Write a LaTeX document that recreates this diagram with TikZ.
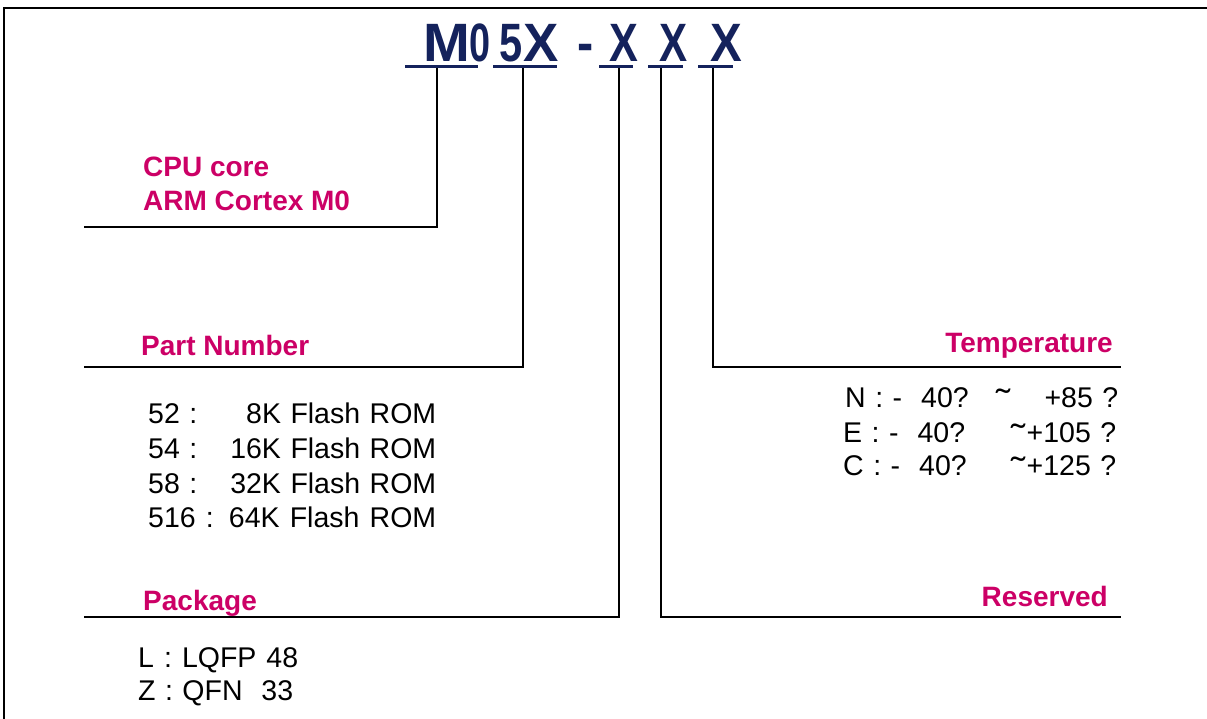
\documentclass[tikz,border=0pt]{standalone}
\usepackage{fontspec}
\setmainfont{Liberation Sans}
\definecolor{navy}{RGB}{20,34,92}
\definecolor{mag}{RGB}{204,0,102}
\newcommand{\tld}{\raisebox{-0.2em}{\scalebox{1.5}[1.2]{\char"02DC}}}
\tikzset{
  ttl/.style={anchor=base,inner sep=0pt,text=navy,font=\fontsize{54}{60}\selectfont\bfseries},
  uline/.style={draw=navy,line width=3pt},
  conn/.style={draw=black,line width=2.2pt},
  head/.style={inner sep=0pt,text=mag,font=\fontsize{28}{34}\selectfont\bfseries},
  body/.style={inner sep=0pt,text=black,font=\fontsize{28.5}{35}\selectfont},
}
\begin{document}
\begin{tikzpicture}[x=1pt,y=-1pt]
\useasboundingbox (0,0) rectangle (1207,719);
% frame
\draw[line width=2pt] (4,719) -- (4,8) -- (1207,8);
% title characters
\node[ttl] (cM) at (446.5,62) {\scalebox{1.04}[1]{M}};
\node[ttl] (c0) at (480,62) {\scalebox{0.7}[1]{0}};
\node[ttl] (c5) at (511.5,62) {\scalebox{0.77}[1]{5}};
\node[ttl] (cX1) at (541.5,62) {\scalebox{0.98}[1]{X}};
\node[ttl] (cdash) at (585.5,62) {\scalebox{0.9}[1]{-}};
\node[ttl] (cX2) at (624,62) {\scalebox{0.8}[1]{X}};
\node[ttl] (cX3) at (673.5,62) {\scalebox{0.78}[1]{X}};
\node[ttl] (cX4) at (726,62) {\scalebox{0.88}[1]{X}};
% underlines
\draw[uline] (405,66.5) -- (478,66.5);
\draw[uline] (493,66.5) -- (557,66.5);
\draw[uline] (599,66.5) -- (633,66.5);
\draw[uline] (648,66.5) -- (683,66.5);
\draw[uline] (698,66.5) -- (733,66.5);
% connector coordinates
\coordinate (tCPU) at (437,68);
\coordinate (kCPU) at (437,227);
\coordinate (eCPU) at (84,227);
\coordinate (tPN) at (523,68);
\coordinate (kPN) at (523,367);
\coordinate (ePN) at (84,367);
\coordinate (tPK) at (619,68);
\coordinate (kPK) at (619,617);
\coordinate (ePK) at (84,617);
\coordinate (tRS) at (661,68);
\coordinate (kRS) at (661,617);
\coordinate (eRS) at (1121,617);
\coordinate (tTP) at (713,68);
\coordinate (kTP) at (713,367);
\coordinate (eTP) at (1121,367);
\draw[conn] (tCPU) -- (kCPU) -- (eCPU);
\draw[conn] (tPN) -- (kPN) -- (ePN);
\draw[conn] (tPK) -- (kPK) -- (ePK);
\draw[conn] (tRS) -- (kRS) -- (eRS);
\draw[conn] (tTP) -- (kTP) -- (eTP);
% headings
\node[head,anchor=base west] (hcpu1) at (143,177) {CPU core};
\node[head,anchor=base west] (hcpu2) at (143,211) {ARM Cortex M0};
\node[head,anchor=base west] (hpn) at (141,355) {Part Number};
\node[head,anchor=base west] (hpk) at (143,610) {Package};
\node[head,anchor=base east] (htp) at (1113,352) {Temperature};
\node[head,anchor=base east] (hrs) at (1108,606) {Reserved};
% part number list
\node[body,anchor=base west,text width=288pt] (p1) at (148,423.5) {52 :\hfill 8K Flash ROM};
\node[body,anchor=base west,text width=288pt] (p2) at (148,458) {54 :\hfill 16K Flash ROM};
\node[body,anchor=base west,text width=288pt] (p3) at (148,493) {58 :\hfill 32K Flash ROM};
\node[body,anchor=base west] (p4) at (148,527.5) {\makebox[288pt][s]{516 : 64K Flash ROM}};
% package list
\node[body,anchor=base west] (k1) at (138,667.5) {\makebox[160pt][s]{L : LQFP 48}};
\node[body,anchor=base west] (k2) at (138,700.5) {\makebox[155pt][s]{Z : QFN\ \ 33}};
% temperature list
\node[body,anchor=base west,text width=273pt] (t1) at (845,407.5) {N : -\ \ 40?\hfill\tld\hspace{1.2em}+85 ?};
\node[body,anchor=base west,text width=273pt] (t2) at (843,442.5) {E : -\ \ 40?\hfill\tld\hspace{0.05em}+105 ?};
\node[body,anchor=base west,text width=273pt] (t3) at (843,475.5) {C : -\ \ 40?\hfill\tld\hspace{0.05em}+125 ?};
\end{tikzpicture}
\end{document}
